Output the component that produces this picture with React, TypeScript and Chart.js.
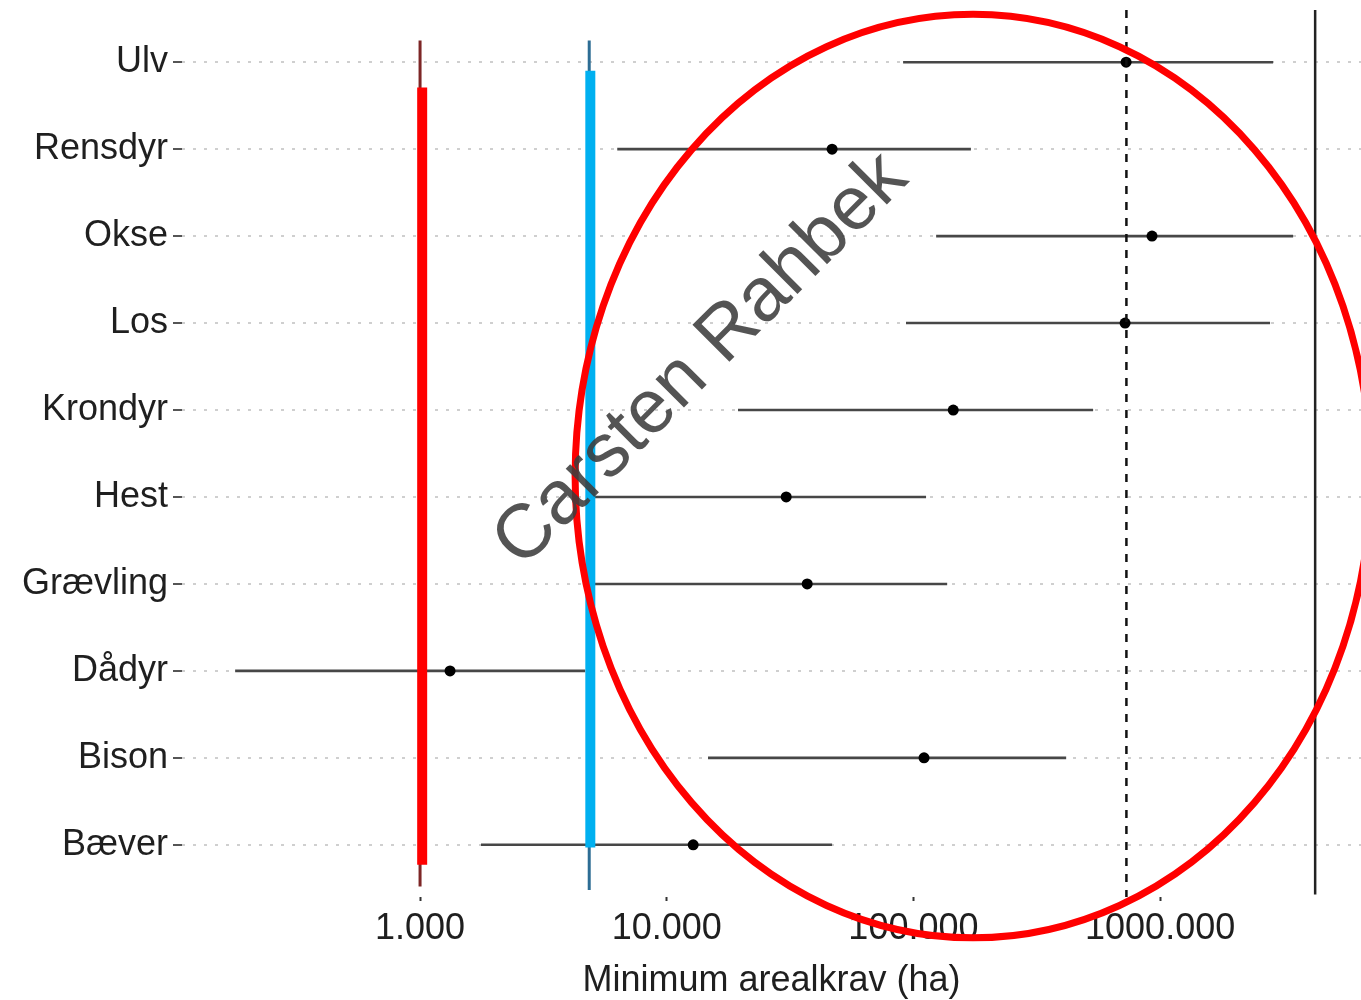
import React, { useEffect, useRef } from 'react';
import { Chart, registerables } from 'chart.js';

Chart.register(...registerables);

// ---- data ----
const CATEGORIES = ['Ulv', 'Rensdyr', 'Okse', 'Los', 'Krondyr', 'Hest', 'Grævling', 'Dådyr', 'Bison', 'Bæver'];
const LOW = [90800, 6300, 123600, 93300, 19450, 4980, 5070, 178, 14700, 1766];
const MID = [728000, 46800, 927000, 721000, 145000, 30500, 37100, 1323, 110400, 12800];
const HIGH = [2870000, 171000, 3460000, 2790000, 535000, 112500, 137000, 4670, 416000, 46800];

const X_TICKS = [1000, 10000, 100000, 1000000];
const X_TICK_LABELS = ['1.000', '10.000', '100.000', '1000.000'];
const X_TITLE = 'Minimum arealkrav (ha)';

const X_MIN = 108.4;
const X_MAX = 6.52e6;
const Y_MIN = -0.6;
const Y_MAX = 9.6;

// reference lines (x value, y from, y to in row units)
const REF_SOLID = [4250000, -0.6, 9.57];
const REF_DASHED = [730000, -0.6, 9.6];
const RED_THIN = [1000, -0.25, 9.48];
const RED_THICK = [1020, 0.29, 9.23];
const BLUE_THIN = [4850, -0.25, 9.52];
const BLUE_THICK = [4900, 0.1, 9.03];

// hand-drawn ellipse (centre in data units, radii in decades / rows)
const ELLIPSE = [174400, 4.76, 1.613, 5.31];
// watermark
const WATERMARK_TEXT = 'Carsten Rahbek';
const WATERMARK_POS = [13800, 3.43];
const WATERMARK_ANGLE = -45;

const FONT = '"Liberation Sans", Arial, Helvetica, sans-serif';

const vline = (v: number[], color: string, width: number, order: number, dash?: number[]) => ({
  type: 'line' as const,
  data: [
    { x: v[0], y: v[1] },
    { x: v[0], y: v[2] },
  ],
  borderColor: color,
  borderWidth: width,
  borderDash: dash || [],
  borderCapStyle: 'butt' as const,
  pointRadius: 0,
  showLine: true,
  order,
});

const overlayPlugin = {
  id: 'overlay',
  afterDatasetsDraw(chart: any) {
    const { ctx, scales } = chart;
    const xs = scales.x;
    const ys = scales.y;
    // ellipse
    const cx = xs.getPixelForValue(ELLIPSE[0]);
    const cy = ys.getPixelForValue(ELLIPSE[1]);
    const rx = xs.getPixelForValue(Math.pow(10, Math.log10(ELLIPSE[0]) + ELLIPSE[2])) - cx;
    const ry = Math.abs(ys.getPixelForValue(ELLIPSE[1] + ELLIPSE[3]) - cy);
    ctx.save();
    ctx.beginPath();
    ctx.ellipse(cx, cy, rx, ry, 0, 0, Math.PI * 2);
    ctx.strokeStyle = '#ff0000';
    ctx.lineWidth = 7;
    ctx.stroke();
    ctx.restore();
    // watermark
    const tx = xs.getPixelForValue(WATERMARK_POS[0]);
    const ty = ys.getPixelForValue(WATERMARK_POS[1]);
    ctx.save();
    ctx.translate(tx, ty);
    ctx.rotate((WATERMARK_ANGLE * Math.PI) / 180);
    ctx.font = `76px ${FONT}`;
    ctx.fillStyle = 'rgba(60,60,60,0.88)';
    ctx.textAlign = 'center';
    ctx.textBaseline = 'middle';
    ctx.fillText(WATERMARK_TEXT, 0, 0);
    ctx.restore();
  },
};

export default function App() {
  const ref = useRef<HTMLCanvasElement | null>(null);

  useEffect(() => {
    if (!ref.current) return;
    const bars = CATEGORIES.map((c, i) => ({
      type: 'line' as const,
      label: c,
      data: [
        { x: LOW[i], y: i },
        { x: HIGH[i], y: i },
      ],
      borderColor: '#474747',
      borderWidth: 2.6,
      pointRadius: 0,
      showLine: true,
      order: 50,
    }));
    const points = {
      type: 'scatter' as const,
      label: 'points',
      data: MID.map((v, i) => ({ x: v, y: i })),
      backgroundColor: '#000',
      borderWidth: 0,
      pointRadius: 5.5,
      order: 40,
    };
    const chart = new Chart(ref.current, {
      type: 'scatter',
      data: {
        datasets: [
          ...bars,
          points,
          vline(REF_SOLID, '#222', 2.5, 30),
          vline(REF_DASHED, '#111', 2.5, 30, [8, 8]),
          vline(RED_THIN, '#7d2626', 3, 20),
          vline(BLUE_THIN, '#2d6d94', 3, 20),
          vline(RED_THICK, '#ff0000', 10, 10),
          vline(BLUE_THICK, '#00b0f0', 10, 10),
        ] as any,
      },
      options: {
        animation: false,
        responsive: false,
        layout: { autoPadding: false, padding: { top: 10, left: 0, right: 0, bottom: 0 } },
        plugins: {
          legend: { display: false },
          tooltip: { enabled: false },
        },
        scales: {
          x: {
            type: 'logarithmic',
            min: X_MIN,
            max: X_MAX,
            afterBuildTicks: (s: any) => {
              s.ticks = X_TICKS.map((v) => ({ value: v }));
            },
            afterFit: (s: any) => {
              s.height = 103;
              s.paddingLeft = 0;
              s.paddingRight = 0;
            },
            border: { display: false },
            grid: {
              drawOnChartArea: false,
              drawTicks: true,
              tickLength: 4,
              tickColor: '#333',
              tickWidth: 2,
            },
            ticks: {
              autoSkip: false,
              maxRotation: 0,
              padding: 6,
              color: '#1f1f1f',
              font: { family: FONT, size: 36 },
              callback: (v: any) => {
                const i = X_TICKS.indexOf(Number(v));
                return i >= 0 ? X_TICK_LABELS[i] : '';
              },
            },
            title: {
              display: true,
              text: X_TITLE,
              color: '#1f1f1f',
              font: { family: FONT, size: 36 },
              padding: { top: 0, bottom: -3 },
            },
          },
          y: {
            type: 'linear',
            reverse: true,
            min: Y_MIN,
            max: Y_MAX,
            afterBuildTicks: (s: any) => {
              s.ticks = CATEGORIES.map((_, i) => ({ value: i }));
            },
            afterFit: (s: any) => {
              s.width = 182;
              s.paddingTop = 0;
              s.paddingBottom = 0;
            },
            border: { display: false, dash: [3, 8] },
            grid: {
              color: '#cfcfcf',
              lineWidth: 2,
              drawTicks: true,
              tickLength: 9,
              tickColor: '#555',
              tickWidth: 2,
            },
            ticks: {
              autoSkip: false,
              padding: 5,
              color: '#1f1f1f',
              font: { family: FONT, size: 36 },
              callback: (v: any) => CATEGORIES[Number(v)] ?? '',
            },
          },
        },
      },
      plugins: [overlayPlugin],
    });
    return () => chart.destroy();
  }, []);

  return (
    <div style={{ position: 'fixed', left: 0, top: 0, width: 1361, height: 1000, background: '#fff' }}>
      <canvas ref={ref} width={1361} height={1000} style={{ display: 'block' }} />
    </div>
  );
}
